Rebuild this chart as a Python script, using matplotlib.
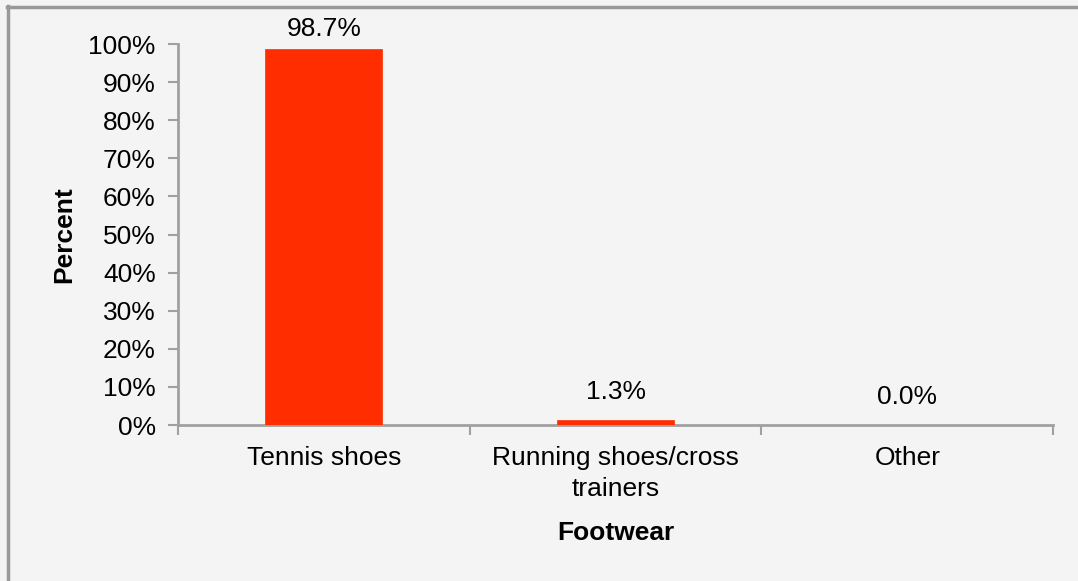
import matplotlib
matplotlib.use('Agg')
import matplotlib.pyplot as plt
from matplotlib.lines import Line2D
from matplotlib.ticker import PercentFormatter
import numpy as np

categories = ['Tennis shoes', 'Running shoes/cross\ntrainers', 'Other']
percent = [98.7, 1.3, 0.0]
y_ticks = list(range(0, 101, 10))

plt.rcParams['font.family'] = ['Liberation Sans', 'DejaVu Sans']

bg = '#f4f4f4'
axis_grey = '#a0a0a0'
fs = 19

fig = plt.figure(figsize=(10.78, 5.81), dpi=100, facecolor=bg)
ax = fig.add_axes([0.165, 0.2685, 0.812, 0.6555])
ax.set_facecolor(bg)

x = np.arange(len(categories))
bars = ax.bar(x, percent, width=0.4, color='#ff2d00', edgecolor='#ff2d00',
              linewidth=0.5, zorder=3)

# value labels sit above the bars, but never above the plot area
for b, v in zip(bars, percent):
    ax.text(b.get_x() + b.get_width() / 2, min(v + 4.3, 100.8), f'{v:.1f}%',
            ha='center', va='bottom', fontsize=fs, clip_on=False)

ax.set_xlim(-0.5, len(categories) - 0.5)
ax.set_ylim(0, 100)
ax.set_yticks(y_ticks)
ax.yaxis.set_major_formatter(PercentFormatter(decimals=0))

# tick marks at the category boundaries, labels centred on the bars
ax.set_xticks(np.arange(-0.5, len(categories), 1.0))
ax.set_xticklabels([])
ax.set_xticks(x, minor=True)
ax.set_xticklabels(categories, minor=True, fontsize=fs, linespacing=1.4)
ax.tick_params(axis='x', which='minor', length=0, pad=15)
ax.tick_params(axis='x', which='major', length=7, width=1.5, color=axis_grey,
               direction='out')
ax.tick_params(axis='y', length=7, width=1.5, color=axis_grey, labelsize=fs,
               pad=9)

for side in ['top', 'right']:
    ax.spines[side].set_visible(False)
for side in ['left', 'bottom']:
    ax.spines[side].set_color(axis_grey)
    ax.spines[side].set_linewidth(2)

ax.set_xlabel('Footwear', fontsize=fs, fontweight='bold', labelpad=14)
ax.set_ylabel('Percent', fontsize=fs, fontweight='bold', labelpad=9)

# frame along top and left edge of the figure
fig.add_artist(Line2D([0.0065, 1.0], [0.988, 0.988], color='#999999',
                      linewidth=2.5, transform=fig.transFigure))
fig.add_artist(Line2D([0.0075, 0.0075], [0.0, 0.989], color='#999999',
                      linewidth=2.5, transform=fig.transFigure))

fig.savefig('out.png', dpi=100, facecolor=bg)
